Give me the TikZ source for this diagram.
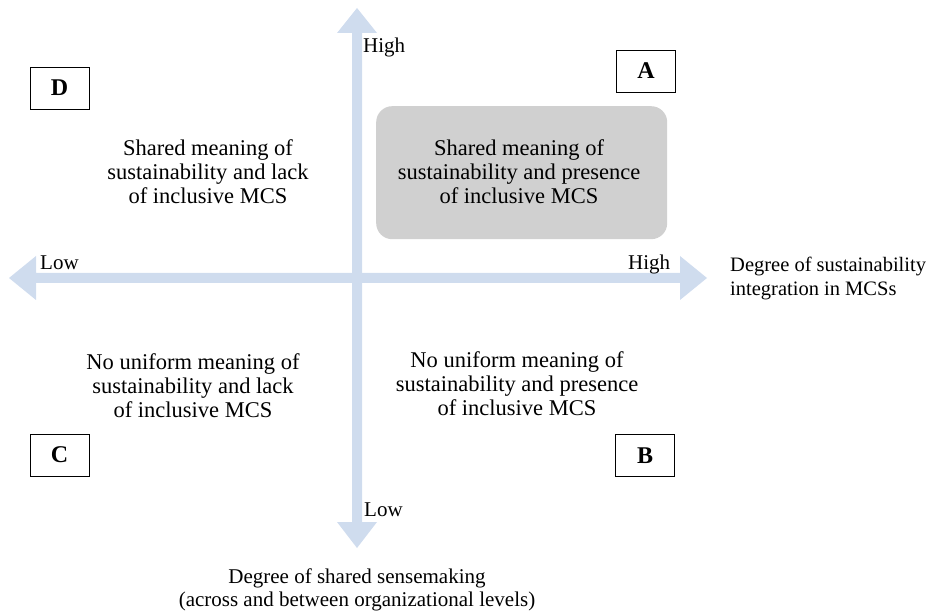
\documentclass[tikz,border=0pt]{standalone}
\usepackage{fontspec}
\setmainfont{Liberation Serif}
\definecolor{axisblue}{RGB}{207,220,238}
\definecolor{boxgray}{RGB}{208,208,208}
\begin{document}
\begin{tikzpicture}[x=1pt,y=-1pt,
  quadtext/.style={align=center,font=\fontsize{22.5}{24}\selectfont,inner sep=0pt},
  axlabel/.style={font=\fontsize{21}{24}\selectfont,inner sep=0pt},
  letterbox/.style={draw,thick,minimum width=59pt,minimum height=42pt,font=\fontsize{24}{26}\selectfont\bfseries,inner sep=0pt},
  axisfill/.style={fill=axisblue,draw=none}]
\useasboundingbox (0,0) rectangle (935,612);
% axes
\fill[axisfill] (352,33) -- (337,33) -- (357,8) -- (377,33) -- (362,33) -- (362,522) -- (377,522) -- (357,548) -- (337,522) -- (352,522) -- cycle;
\fill[axisfill] (36,273) -- (36,256) -- (9,278) -- (36,300) -- (36,283) -- (680,283) -- (680,300) -- (707,278) -- (680,256) -- (680,273) -- cycle;
% highlighted quadrant
\node[fill=boxgray,rounded corners=16pt,minimum width=291pt,minimum height=133pt,anchor=north west] (abox) at (376,106) {};
% letter boxes
\node[letterbox] (A) at (646,71) {A};
\node[letterbox] (D) at (59.5,88) {D};
\node[letterbox] (C) at (59.5,455) {C};
\node[letterbox] (B) at (645,455.5) {B};
% quadrant texts
\node[quadtext] (tA) at (519,172) {Shared meaning of\\sustainability and presence\\of inclusive MCS};
\node[quadtext] (tD) at (208,172) {Shared meaning of\\sustainability and lack\\of inclusive MCS};
\node[quadtext] (tC) at (193,386) {No uniform meaning of\\sustainability and lack\\of inclusive MCS};
\node[quadtext] (tB) at (517,384) {No uniform meaning of\\sustainability and presence\\of inclusive MCS};
% axis labels
\node[axlabel,anchor=base west] (hiy) at (363,53) {High};
\node[axlabel,anchor=base west] (loy) at (364,516) {Low};
\node[axlabel,anchor=base west] (lox) at (40,270) {Low};
\node[axlabel,anchor=base west] (hix) at (628,270) {High};
\node[axlabel,anchor=north west,align=left,font=\fontsize{20.5}{24}\selectfont] (xlab) at (730,257) {Degree of sustainability\\integration in MCSs};
\node[axlabel,anchor=south,align=center,font=\fontsize{21}{23}\selectfont] (ylab) at (357,611) {Degree of shared sensemaking\\(across and between organizational levels)};
\end{tikzpicture}
\end{document}
